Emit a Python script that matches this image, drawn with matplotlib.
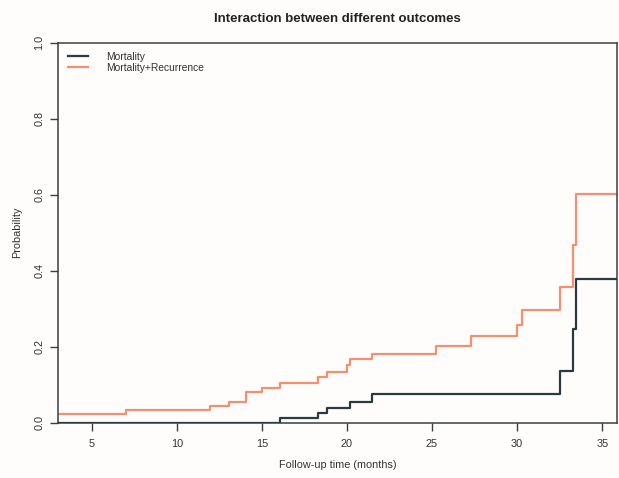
import matplotlib
matplotlib.use("Agg")
import matplotlib.pyplot as plt

plt.rcParams["font.family"] = ["Liberation Sans", "DejaVu Sans"]

# Cumulative incidence step functions (time in months, probability)
mort_time = [0, 16.06, 18.31, 18.8, 20.18, 21.45, 32.52, 33.28, 33.48, 36.5]
mort_prob = [0.0, 0.013, 0.026, 0.039, 0.055, 0.075, 0.137, 0.246, 0.378, 0.378]

mr_time = [0, 7.02, 11.95, 13.06, 14.06, 15.02, 16.06, 18.31, 18.8, 19.98,
           20.18, 21.45, 25.23, 27.29, 30.02, 30.3, 32.52, 33.3, 33.46, 36.5]
mr_prob = [0.024, 0.033, 0.044, 0.055, 0.080, 0.091, 0.105, 0.121, 0.134, 0.152,
           0.168, 0.181, 0.202, 0.229, 0.258, 0.296, 0.358, 0.468, 0.601, 0.601]

x_ticks = [5, 10, 15, 20, 25, 30, 35]
y_ticks = [0.0, 0.2, 0.4, 0.6, 0.8, 1.0]
series_labels = ["Mortality", "Mortality+Recurrence"]

black = "#2c3a3f"
salmon = "#f98e6f"
axis_col = "#3a3f42"
bg = "#fffdfc"

fig = plt.figure(figsize=(6.19, 4.78), dpi=100, facecolor=bg)
ax = fig.add_axes([0.0942, 0.1157, 0.9021, 0.795], facecolor=bg)

ax.step(mort_time, mort_prob, where="post", color=black, lw=1.6,
        label=series_labels[0], zorder=3)
ax.step(mr_time, mr_prob, where="post", color=salmon, lw=1.6,
        label=series_labels[1], zorder=2)

ax.set_xlim(3.04, 35.85)
ax.set_ylim(0, 1)
ax.set_xticks(x_ticks)
ax.set_yticks(y_ticks)
ax.set_xticklabels([str(v) for v in x_ticks])
ax.set_yticklabels([f"{v:.1f}" for v in y_ticks], rotation=90, va="center")

for s in ax.spines.values():
    s.set_color(axis_col)
    s.set_linewidth(1.1)
ax.tick_params(axis="both", direction="out", length=6, width=1.0,
               color=axis_col, labelsize=7.8, labelcolor="#333333")
ax.tick_params(axis="x", pad=6)
ax.tick_params(axis="y", pad=4)

ax.set_xlabel("Follow-up time (months)", fontsize=7.8, color="#333333", labelpad=8)
ax.set_ylabel("Probability", fontsize=7.8, color="#333333", labelpad=9)
ax.set_title("Interaction between different outcomes", fontsize=9.5,
             fontweight="bold", color="#222222", pad=15)

leg = ax.legend(loc="upper left", frameon=False, fontsize=7.4,
                handlelength=2.0, handletextpad=1.8, labelspacing=0.1,
                borderaxespad=0.5, bbox_to_anchor=(0.0, 1.0))
for t in leg.get_texts():
    t.set_color("#333333")

fig.savefig("out.png", dpi=100, facecolor=bg)
